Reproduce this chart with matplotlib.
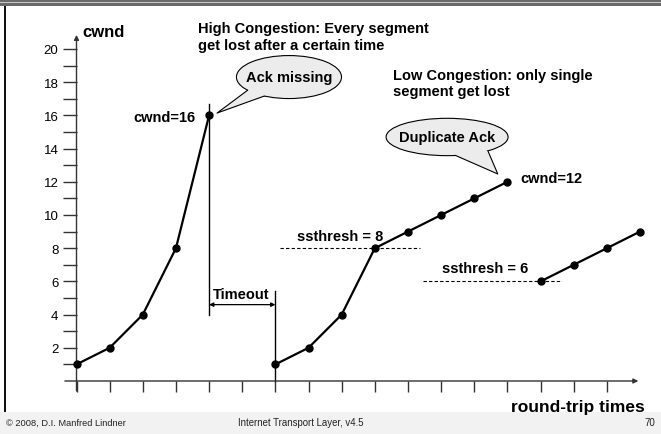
import numpy as np
import matplotlib
matplotlib.use('Agg')
import matplotlib.pyplot as plt
from matplotlib.patches import Ellipse, Polygon, Rectangle

plt.rcParams['font.family'] = ['Liberation Sans', 'DejaVu Sans']

# slow start until the timeout, then again, then a duplicate ack
rtt1 = [0, 1, 2, 3, 4]
cwnd1 = [1, 2, 4, 8, 16]
rtt2 = [6, 7, 8, 9, 10, 11, 12, 13]
cwnd2 = [1, 2, 4, 8, 9, 10, 11, 12]
rtt3 = [14, 15, 16, 17]
cwnd3 = [6, 7, 8, 9]

yticks = list(range(2, 21, 2))
yminor = list(range(1, 20, 2))
xticks = list(range(0, 17))

W, H = 661, 435
fig = plt.figure(figsize=(W / 100, H / 100), dpi=100)

# slide frame: top bar, left line, footer band
fig.patches.append(Rectangle((0, 1 - 7 / H), 1, 7 / H, transform=fig.transFigure,
                             facecolor='#6a6a6a', edgecolor='none', zorder=0))
fig.patches.append(Rectangle((0, 1 - 4 / H), 1, 1 / H, transform=fig.transFigure,
                             facecolor='#c8c8c8', edgecolor='none', zorder=1))
fig.patches.append(Rectangle((0, 0), 1, 22 / H, transform=fig.transFigure,
                             facecolor='#f2f2f2', edgecolor='none', zorder=0))
fig.patches.append(Rectangle((4 / W, 22 / H), 2 / W, 1 - 29 / H, transform=fig.transFigure,
                             facecolor='#111111', edgecolor='none', zorder=1))

fig.text(6 / W, 12 / H, '\u00a9 2008, D.I. Manfred Lindner', fontsize=6.7, va='center', color='#222')
fig.text(238 / W, 12 / H, 'Internet Transport Layer, v4.5', fontsize=6.9, va='center', color='#222')
fig.text(655 / W, 12 / H, '70', fontsize=7, va='center', ha='right', color='#222')
fig.text(645 / W, 27 / H, 'round-trip times', fontsize=12.5, fontweight='bold',
         ha='right', va='center')

ax = fig.add_axes([76.5 / W, (H - 382) / H, 563.5 / W, 332 / H])
ax.set_xlim(0, 17)
ax.set_ylim(0, 20)
ax.patch.set_alpha(0)
for s in ax.spines.values():
    s.set_visible(False)

ax.set_yticks(yticks)
ax.set_yticks(yminor, minor=True)
ax.set_xticks(xticks)
ax.set_xticklabels([])
ax.tick_params(axis='y', which='both', direction='out', length=10, width=1,
               color='#333', labelsize=9.5, pad=3)
ax.tick_params(axis='x', which='both', direction='out', length=8, width=1, color='#333')

arr = dict(arrowstyle='-|>', color='#333', lw=1, mutation_scale=7, shrinkA=0, shrinkB=0)
ax.annotate('', xy=(0, 20.85), xytext=(0, -0.6), arrowprops=arr, annotation_clip=False)
ax.annotate('', xy=(16.95, 0), xytext=(-0.35, 0), arrowprops=arr, annotation_clip=False)

for xs, ys in [(rtt1, cwnd1), (rtt2, cwnd2), (rtt3, cwnd3)]:
    ax.plot(xs, ys, color='black', lw=1.6, marker='o', ms=5, clip_on=False, zorder=5)

# timeout marks
ax.plot([4, 4], [4, 16.7], color='black', lw=1, clip_on=False)
ax.plot([6, 6], [0, 5.4], color='black', lw=1, clip_on=False)
ax.annotate('', xy=(6, 4.6), xytext=(4, 4.6), annotation_clip=False,
            arrowprops=dict(arrowstyle='<|-|>', color='black', lw=0.9,
                            mutation_scale=6, shrinkA=0, shrinkB=0))
ax.text(4.98, 5.25, 'Timeout', fontsize=10.5, fontweight='bold', ha='center', va='center')

# ssthresh levels
ax.plot([6.13, 10.35], [8, 8], color='black', lw=0.8, dashes=(3, 2), clip_on=False)
ax.plot([10.44, 14.65], [6, 6], color='black', lw=0.8, dashes=(3, 2), clip_on=False)
ax.text(7.96, 8.75, 'ssthresh = 8', fontsize=10.5, fontweight='bold', ha='center', va='center')
ax.text(12.32, 6.8, 'ssthresh = 6', fontsize=10.5, fontweight='bold', ha='center', va='center')

ax.text(0.18, 21.05, 'cwnd', fontsize=12, fontweight='bold', ha='left', va='center')
ax.text(3.6, 15.9, 'cwnd=16', fontsize=10.5, fontweight='bold', ha='right', va='center')
ax.text(13.38, 12.25, 'cwnd=12', fontsize=10.5, fontweight='bold', ha='left', va='center')
ax.text(3.67, 20.75, 'High Congestion: Every segment\nget lost after a certain time',
        fontsize=10.5, fontweight='bold', ha='left', va='center', linespacing=1.2)
ax.text(9.55, 17.95, 'Low Congestion: only single\nsegment get lost',
        fontsize=10.5, fontweight='bold', ha='left', va='center', linespacing=1.2)


def bubble(cx, cy, w, h, a1, a2, tip, label):
    e = Ellipse((cx, cy), w, h, facecolor='#ececec', edgecolor='black', lw=0.8,
                clip_on=False, zorder=6)
    ax.add_patch(e)
    b1 = (cx + w / 2 * np.cos(np.radians(a1)), cy + h / 2 * np.sin(np.radians(a1)))
    b2 = (cx + w / 2 * np.cos(np.radians(a2)), cy + h / 2 * np.sin(np.radians(a2)))
    ax.add_patch(Polygon([b1, tip, b2, (cx, cy)], closed=True, facecolor='#ececec',
                         edgecolor='none', clip_on=False, zorder=7))
    ax.plot([b1[0], tip[0], b2[0]], [b1[1], tip[1], b2[1]], color='black', lw=0.8,
            clip_on=False, zorder=8)
    ax.text(cx, cy, label, fontsize=10.5, fontweight='bold', ha='center', va='center', zorder=9)


bubble(6.41, 18.31, 3.17, 2.59, 218, 242, (4.24, 16.14), 'Ack missing')
bubble(11.18, 14.7, 3.68, 2.25, 278, 312, (12.71, 12.47), 'Duplicate Ack')

fig.savefig('out.png', dpi=100)
